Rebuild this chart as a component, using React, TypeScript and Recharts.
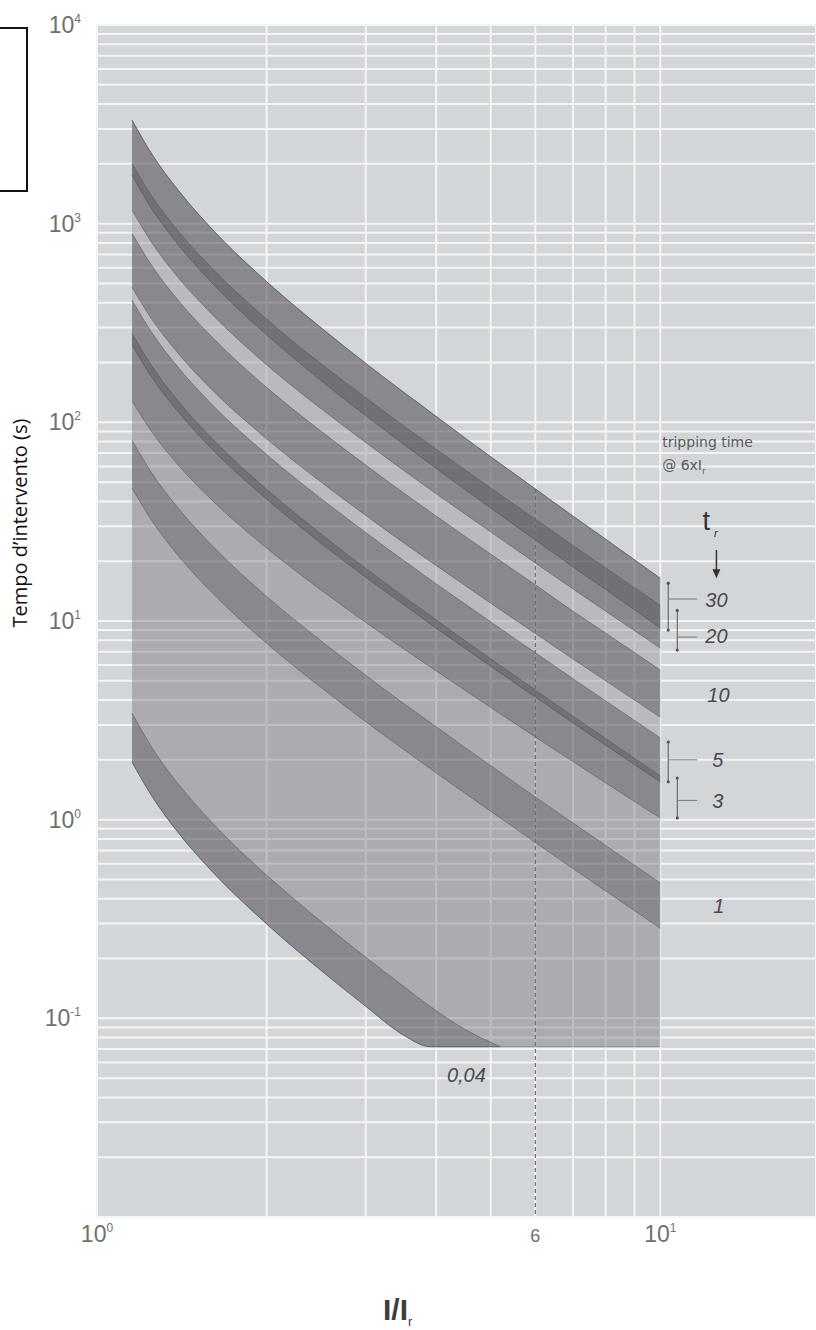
import React from 'react'
import {
  ComposedChart,
  Area,
  XAxis,
  YAxis,
  CartesianGrid,
  ReferenceLine,
  ReferenceDot,
} from 'recharts'

const FONT = '"Liberation Sans", Arial, sans-serif'

const currentMultiples = [1.154, 1.25, 1.4, 1.6, 2, 2.5, 3, 3.5, 3.9, 4.5, 5.2, 6, 7, 8, 10]

// bande di intervento (s), limite superiore / inferiore
const band30Upper = [3320, 2250, 1450, 940, 511, 299, 198, 142, 113, 83.5, 61.9, 46.2, 33.7, 25.8, 16.4]
const band30Lower = [1754, 1192, 771, 503, 276, 162, 108, 77.6, 61.8, 45.9, 34.2, 25.6, 18.7, 14.4, 9.2]
const band20Upper = [2010, 1380, 904, 596, 331, 197, 133, 96.2, 77.1, 57.7, 43.2, 32.6, 24.0, 18.5, 12.0]
const band20Lower = [1170, 805, 528, 350, 195, 117, 79.1, 57.4, 46.0, 34.6, 26.0, 19.6, 14.5, 11.2, 7.31]
const band10Upper = [895, 617, 405, 269, 150, 90.1, 60.9, 44.2, 35.5, 26.7, 20.1, 15.2, 11.2, 8.69, 5.66]
const band10Lower = [479, 332, 219, 146, 82.6, 50.0, 34.0, 24.8, 20.0, 15.1, 11.4, 8.65, 6.44, 5.0, 3.28]
const band5Upper = [412, 284, 186, 123, 68.9, 41.3, 27.9, 20.2, 16.2, 12.2, 9.16, 6.92, 5.12, 3.96, 2.58]
const band5Lower = [245, 169, 111, 73.4, 41.1, 24.6, 16.6, 12.1, 9.7, 7.28, 5.48, 4.14, 3.07, 2.37, 1.55]
const band3Upper = [281, 193, 126, 83.0, 46.0, 27.4, 18.4, 13.3, 10.7, 7.97, 5.97, 4.5, 3.32, 2.56, 1.66]
const band3Lower = [128, 89.9, 60.1, 40.6, 23.3, 14.3, 9.84, 7.26, 5.89, 4.48, 3.41, 2.61, 1.96, 1.53, 1.02]
const band1Upper = [81.3, 55.7, 36.4, 24.0, 13.3, 7.93, 5.33, 3.85, 3.09, 2.31, 1.73, 1.3, 0.961, 0.741, 0.48]
const band1Lower = [46.7, 32.1, 21.0, 13.9, 7.73, 4.62, 3.11, 2.26, 1.81, 1.36, 1.02, 0.767, 0.567, 0.438, 0.284]
const band004Upper = [3.44, 2.32, 1.49, 0.968, 0.526, 0.307, 0.203, 0.145, 0.115, 0.088, 0.072, null, null, null, null]
const band004Lower = [1.95, 1.32, 0.847, 0.55, 0.299, 0.174, 0.115, 0.0824, 0.072, 0.072, 0.072, null, null, null, null]
const envelopeLower = [1.95, 1.32, 0.847, 0.55, 0.299, 0.174, 0.115, 0.0824, 0.072, 0.072, 0.072, 0.072, 0.072, 0.072, 0.072]

const bandKeys = ['b30', 'b20', 'b10', 'b5', 'b3', 'b1', 'b004']
const gapKeys = ['gap1', 'gap2']

// griglia log
const xGridTicks = [1, 2, 3, 4, 5, 6, 7, 8, 9, 10]
const yDecades = [0.01, 0.1, 1, 10, 100, 1000]
const mantissas = [1, 2, 3, 4, 5, 6, 7, 8, 9]
const yGridTicks = [...yDecades.flatMap((d) => mantissas.map((m) => +(m * d).toPrecision(3))), 10000]
const xLabels: Record<number, [string, string]> = { 1: ['10', '0'], 6: ['6', ''], 10: ['10', '1'] }

// staffe @ 6xIr a destra
const bracketX = [10.33, 10.72, 10.33, 10.72]
const bracketTop = [15.5, 11.3, 2.46, 1.62]
const bracketBottom = [9.0, 7.14, 1.55, 1.02]
const bracketMid = [12.9, 8.3, 2.0, 1.25]
const bracketDashEnd = 11.63

// etichette tr
const trLabels = ['30', '20', '10', '5', '3', '1', '0,04']
const trLabelX = [12.02, 12.02, 12.12, 12.37, 12.37, 12.42, 4.18]
const trLabelY = [11.75, 7.74, 3.91, 1.84, 1.144, 0.339, 0.0478]

const rows = currentMultiples.map((x, i) => ({
  x,
  envelope: [envelopeLower[i], band30Upper[i]],
  gap1: [band10Upper[i], band20Lower[i]],
  gap2: [band5Upper[i], band10Lower[i]],
  b30: [band30Lower[i], band30Upper[i]],
  b20: [band20Lower[i], band20Upper[i]],
  b10: [band10Lower[i], band10Upper[i]],
  b5: [band5Lower[i], band5Upper[i]],
  b3: [band3Lower[i], band3Upper[i]],
  b1: [band1Lower[i], band1Upper[i]],
  b004: band004Upper[i] == null ? null : [band004Lower[i], band004Upper[i]],
}))

function YTick({ x, y, payload }: any) {
  const e = Math.log10(payload.value)
  const r = Math.round(e)
  if (Math.abs(e - r) > 1e-6 || r < -1) return null
  return (
    <text x={x - 14} y={y + 8} textAnchor="end" fill="#707070" fontSize={23} fontFamily={FONT}>
      10
      <tspan dy={-10} fontSize={12}>
        {r}
      </tspan>
    </text>
  )
}

function XTick({ x, y, payload }: any) {
  const lab = xLabels[payload.value]
  if (!lab) return null
  const small = lab[1] === ''
  return (
    <text
      x={x}
      y={y + 23}
      textAnchor="middle"
      fill="#707070"
      fontSize={small ? 18 : 23}
      fontFamily={FONT}
    >
      {lab[0]}
      {lab[1] && (
        <tspan dy={-10} fontSize={12}>
          {lab[1]}
        </tspan>
      )}
    </text>
  )
}

const textAt = (content: React.ReactNode, style: any) => (p: any) => (
  <text x={p.cx} y={p.cy} fontFamily={FONT} {...style}>
    {content}
  </text>
)

export default function App() {
  return (
    <div
      style={{
        position: 'fixed',
        left: 0,
        top: 0,
        width: 816,
        height: 1330,
        overflow: 'hidden',
        background: '#fff',
      }}
    >
      <ComposedChart width={816} height={1330} data={rows} margin={{ top: 25, right: 0, bottom: 0, left: 0 }}>
        <CartesianGrid fill="#d3d6d9" stroke="#f3f4f5" strokeWidth={2} />
        <XAxis
          type="number"
          dataKey="x"
          scale="log"
          domain={[1, 18.9]}
          allowDataOverflow
          ticks={xGridTicks}
          interval={0}
          tick={XTick}
          tickLine={false}
          axisLine={false}
          tickSize={0}
          height={113}
        />
        <YAxis
          type="number"
          scale="log"
          domain={[0.01, 10000]}
          allowDataOverflow
          ticks={yGridTicks}
          interval={0}
          tick={YTick}
          tickLine={false}
          axisLine={false}
          tickSize={0}
          width={97}
        />
        <Area
          dataKey="envelope"
          type="monotone"
          fill="#7a6f7c"
          fillOpacity={0.42}
          stroke="#85808a"
          strokeWidth={0.8}
          dot={false}
          activeDot={false}
          isAnimationActive={false}
        />
        {gapKeys.map((k) => (
          <Area
            key={k}
            dataKey={k}
            type="monotone"
            fill="#ffffff"
            fillOpacity={0.17}
            stroke="none"
            dot={false}
            activeDot={false}
            isAnimationActive={false}
          />
        ))}
        {bandKeys.map((k) => (
          <Area
            key={k}
            dataKey={k}
            type="monotone"
            fill="#3b373e"
            fillOpacity={0.3}
            stroke="#55515a"
            strokeOpacity={0.6}
            strokeWidth={0.9}
            dot={false}
            activeDot={false}
            isAnimationActive={false}
          />
        ))}
        <ReferenceLine
          segment={[
            { x: 6, y: band30Upper[currentMultiples.indexOf(6)] },
            { x: 6, y: 0.01 },
          ]}
          stroke="#6a6a6a"
          strokeWidth={1.2}
          strokeDasharray="4 3"
        />
        {bracketX.map((bx, i) => (
          <ReferenceLine
            key={'bv' + i}
            segment={[
              { x: bx, y: bracketTop[i] },
              { x: bx, y: bracketBottom[i] },
            ]}
            stroke="#555"
            strokeWidth={1}
          />
        ))}
        {bracketX.map((bx, i) => (
          <ReferenceLine
            key={'bh' + i}
            segment={[
              { x: bx, y: bracketMid[i] },
              { x: bracketDashEnd, y: bracketMid[i] },
            ]}
            stroke="#777"
            strokeWidth={1}
          />
        ))}
        {bracketX.flatMap((bx, i) =>
          [bracketTop[i], bracketBottom[i]].map((by, j) => (
            <ReferenceDot key={'bd' + i + j} x={bx} y={by} r={1.6} fill="#555" stroke="none" />
          )),
        )}
        {trLabels.map((t, i) => (
          <ReferenceDot
            key={'tl' + i}
            x={trLabelX[i]}
            y={trLabelY[i]}
            r={0}
            shape={textAt(t, { fontSize: 20, fontStyle: 'italic', fill: '#4a4a4a' })}
          />
        ))}
        <ReferenceDot
          x={10.08}
          y={75}
          r={0}
          shape={textAt('tripping time', { fontSize: 14, fill: '#5a5a5a', fontFamily: 'DejaVu Sans' })}
        />
        <ReferenceDot
          x={10.08}
          y={57.4}
          r={0}
          shape={textAt(
            <>
              @ 6xI
              <tspan fontSize={9} dy={4}>
                r
              </tspan>
            </>,
            { fontSize: 14, fill: '#5a5a5a', fontFamily: 'DejaVu Sans' },
          )}
        />
        <ReferenceDot
          x={11.88}
          y={28.7}
          r={0}
          shape={textAt(
            <>
              t
              <tspan fontSize={11} dx={4} dy={7} fontStyle="italic">
                r
              </tspan>
            </>,
            { fontSize: 27, fill: '#333' },
          )}
        />
        <ReferenceLine
          segment={[
            { x: 12.58, y: 22.8 },
            { x: 12.58, y: 17.6 },
          ]}
          stroke="#333"
          strokeWidth={1.5}
        />
        <ReferenceDot
          x={12.58}
          y={16.4}
          r={0}
          shape={(p: any) => (
            <polygon points={`${p.cx - 4},${p.cy - 9} ${p.cx + 4},${p.cy - 9} ${p.cx},${p.cy}`} fill="#333" />
          )}
        />
      </ComposedChart>
      <svg
        width={816}
        height={1330}
        style={{ position: 'absolute', left: 0, top: 0, pointerEvents: 'none' }}
      >
        <text
          transform="translate(27,523) rotate(-90)"
          textAnchor="middle"
          fontFamily='"Open Sans", sans-serif'
          fontSize={20}
          fill="#111"
        >
          Tempo d’intervento (s)
        </text>
        <text x={383} y={1320} fontFamily={FONT} fontSize={30} fontWeight="bold" fill="#3d3d3d">
          I/I
          <tspan fontSize={13} dy={6} fontWeight="normal">
            r
          </tspan>
        </text>
      </svg>
      <div
        style={{
          position: 'absolute',
          left: -4,
          top: 27,
          width: 28,
          height: 161,
          border: '2px solid #111',
          background: '#fff',
        }}
      />
    </div>
  )
}
